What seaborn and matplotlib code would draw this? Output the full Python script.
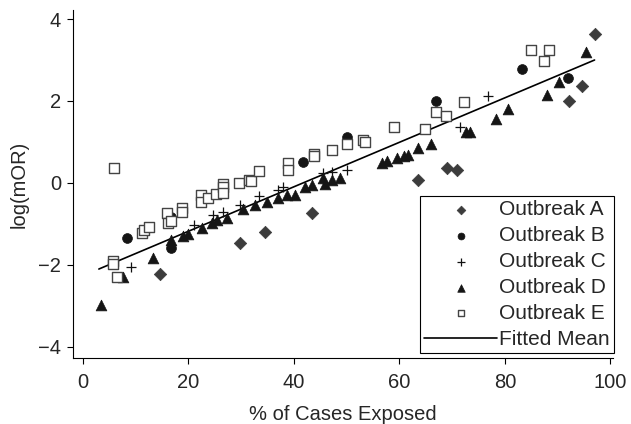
import seaborn as sns
import matplotlib
matplotlib.use("Agg")
import matplotlib.pyplot as plt

# Outbreak A (diamonds)
a_x = [14.6, 29.7, 34.5, 43.4, 63.6, 69.1, 71.0, 92.2, 94.7, 97.0]
a_y = [-2.22, -1.46, -1.19, -0.73, 0.07, 0.37, 0.32, 2.0, 2.37, 3.63]

# Outbreak B (filled circles)
b_x = [8.3, 16.7, 16.7, 41.7, 50.0, 66.9, 83.3, 91.9]
b_y = [-1.34, -1.58, -0.83, 0.51, 1.12, 2.0, 2.78, 2.56]

# Outbreak C (plus)
c_x = [9.1, 21.0, 24.6, 26.5, 29.7, 33.3, 36.9, 37.9, 45.5, 47.2, 50.0, 71.4, 76.7]
c_y = [-2.05, -1.02, -0.78, -0.70, -0.54, -0.32, -0.17, -0.10, 0.24, 0.27, 0.32, 1.37, 2.12]

# Outbreak D (filled triangles)
d_x = [3.4, 7.6, 13.3, 16.7, 18.9, 19.9, 22.5, 24.4, 25.4, 27.3, 30.3, 32.6, 34.8,
       36.9, 38.6, 40.2, 42.0, 43.4, 45.5, 45.8, 47.2, 48.7, 56.6, 57.6, 59.5,
       60.8, 61.7, 63.6, 65.9, 72.7, 73.3, 78.4, 80.5, 87.9, 90.2, 95.3]
d_y = [-2.98, -2.30, -1.83, -1.39, -1.29, -1.24, -1.10, -0.98, -0.90, -0.85, -0.63,
       -0.54, -0.46, -0.37, -0.29, -0.29, -0.10, -0.05, 0.12, -0.02, 0.07, 0.12,
       0.49, 0.54, 0.61, 0.66, 0.68, 0.85, 0.95, 1.24, 1.24, 1.56, 1.80, 2.15,
       2.46, 3.20]

# Outbreak E (open squares)
e_x = [5.9, 5.7, 5.7, 6.4, 11.2, 11.6, 12.5, 15.9, 16.1, 16.7, 18.8, 18.8, 22.3,
       22.3, 23.7, 25.2, 26.5, 26.5, 26.5, 29.5, 31.4, 31.8, 33.3, 38.8, 38.8,
       43.8, 43.8, 47.2, 50.0, 53.0, 53.4, 58.9, 64.8, 66.9, 68.9, 72.3, 85.0,
       88.3, 87.5]
e_y = [0.37, -1.90, -1.97, -2.30, -1.22, -1.15, -1.07, -0.73, -0.98, -0.93, -0.61,
       -0.70, -0.29, -0.46, -0.37, -0.27, -0.02, -0.10, -0.24, 0.01, 0.07, 0.05,
       0.28, 0.49, 0.32, 0.71, 0.66, 0.80, 0.95, 1.05, 1.00, 1.37, 1.32, 1.73,
       1.63, 1.98, 3.24, 3.24, 2.98]

# fitted mean line end points
fit_x = [3.0, 97.0]
fit_y = [-2.10, 3.00]

sns.set_style("ticks")
plt.rcParams["font.family"] = ["Liberation Sans", "DejaVu Sans"]

fig = plt.figure(figsize=(6.31, 4.24), dpi=100)
ax = fig.add_axes([0.1157, 0.1557, 0.8558, 0.8207])

sns.scatterplot(x=a_x, y=a_y, marker="D", s=40, color="#3c3c3c", edgecolor="#3c3c3c",
                linewidth=0.5, label="Outbreak A", ax=ax, zorder=3)
sns.scatterplot(x=b_x, y=b_y, marker="o", s=50, color="#151515", edgecolor="#151515",
                linewidth=0.5, label="Outbreak B", ax=ax, zorder=3)
sns.scatterplot(x=c_x, y=c_y, marker="+", s=55, color="#111111", linewidth=0.9,
                label="Outbreak C", ax=ax, zorder=3)
sns.scatterplot(x=d_x, y=d_y, marker="^", s=60, color="#151515", edgecolor="#151515",
                linewidth=0.5, label="Outbreak D", ax=ax, zorder=3)
sns.scatterplot(x=e_x, y=e_y, marker="s", s=46, facecolor="white", edgecolor="#444444",
                linewidth=1.0, label="Outbreak E", ax=ax, zorder=3)
sns.lineplot(x=fit_x, y=fit_y, color="black", linewidth=1.2, label="Fitted Mean",
             ax=ax, zorder=2)

ax.set_xlim(-1.9, 100.5)
ax.set_ylim(-4.27, 4.22)
ax.set_xticks([0, 20, 40, 60, 80, 100])
ax.set_yticks([-4, -2, 0, 2, 4])
ax.tick_params(axis="both", labelsize=14.5, length=4.5, width=0.8, pad=4,
               direction="out", color="black")
ax.tick_params(axis="x", pad=6)
ax.set_xlabel("% of Cases Exposed", fontsize=14.5, labelpad=10)
ax.set_ylabel("log(mOR)", fontsize=14.5, labelpad=7)
sns.despine(ax=ax)
for sp in ["left", "bottom"]:
    ax.spines[sp].set_linewidth(0.8)
    ax.spines[sp].set_color("black")

leg = ax.legend(loc="lower right", bbox_to_anchor=(1.002, 0.0144), borderaxespad=0,
                fontsize=15, frameon=True, fancybox=False, edgecolor="black",
                framealpha=1, handlelength=3.5, handletextpad=0.1, borderpad=0.2,
                labelspacing=0.33, markerscale=0.7)
leg.get_frame().set_linewidth(0.8)

fig.savefig("out.png", dpi=100)
